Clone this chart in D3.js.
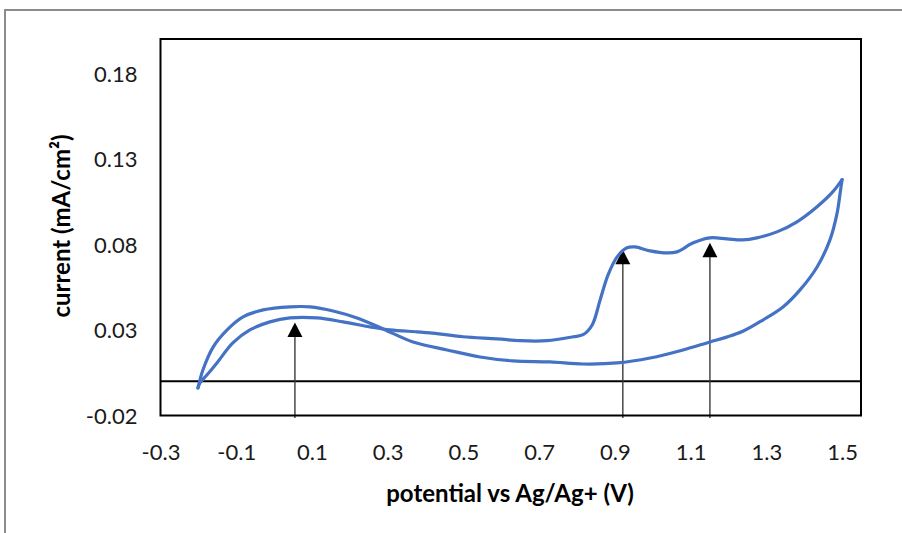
<!DOCTYPE html>
<html>
<head>
<meta charset="utf-8">
<script src="https://cdn.jsdelivr.net/npm/d3@7"></script>
<style>
  html, body { margin: 0; padding: 0; background: #fff; }
  svg { display: block; }
</style>
</head>
<body>
<svg id="chart" width="902" height="533"></svg>
<script>
// ---- data ----
const forwardV = [-0.201, -0.196, -0.178, -0.151, -0.109, -0.064, -0.011, 0.042, 0.113, 0.182, 0.253, 0.306, 0.378, 0.412, 0.499, 0.589, 0.650, 0.721, 0.790, 0.816, 0.840, 0.861, 0.882, 0.906, 0.932, 0.953, 0.993, 1.038, 1.064, 1.107, 1.151, 1.196, 1.238, 1.275, 1.328, 1.381, 1.434, 1.476, 1.500];
const forwardI = [-0.0039, -0.001, 0.0035, 0.0107, 0.0224, 0.030, 0.0347, 0.037, 0.037, 0.0347, 0.0318, 0.030, 0.0289, 0.0283, 0.026, 0.0248, 0.0237, 0.0237, 0.026, 0.0272, 0.0329, 0.0475, 0.0622, 0.0727, 0.078, 0.0785, 0.0762, 0.075, 0.0756, 0.0809, 0.0838, 0.0832, 0.0826, 0.0838, 0.0873, 0.0932, 0.102, 0.1108, 0.1178];
const reverseV = [1.500, 1.495, 1.487, 1.468, 1.434, 1.389, 1.344, 1.291, 1.238, 1.195, 1.151, 1.080, 0.993, 0.906, 0.816, 0.729, 0.631, 0.544, 0.457, 0.367, 0.288, 0.219, 0.156, 0.095, 0.042, -0.029, -0.082, -0.124, -0.161, -0.188, -0.201];
const reverseI = [0.1178, 0.1102, 0.0984, 0.0826, 0.0668, 0.0534, 0.0434, 0.0358, 0.0292, 0.0258, 0.023, 0.0183, 0.0136, 0.0107, 0.0101, 0.0113, 0.0119, 0.0142, 0.0183, 0.023, 0.0306, 0.037, 0.0411, 0.0435, 0.0435, 0.0417, 0.0376, 0.030, 0.020, 0.0066, -0.0039];
const arrowV = [0.055, 0.921, 1.151];
const arrowTipI = [0.0343, 0.0768, 0.0809];
const xTicks = [-0.3, -0.1, 0.1, 0.3, 0.5, 0.7, 0.9, 1.1, 1.3, 1.5];
const yTicks = [-0.02, 0.03, 0.08, 0.13, 0.18];
const xTitle = "potential vs Ag/Ag+ (V)";
const yTitle = "current (mA/cm²)";

// ---- layout ----
const svg = d3.select("#chart");
const L = 160.5, R = 861, T = 39, B = 415.5;
const x = d3.scaleLinear().domain([-0.3, 1.55]).range([L, R]);
const y = d3.scaleLinear().domain([-0.02, 0.2]).range([B, T]);
const font = "Lato, 'Open Sans', sans-serif";
const hy = s => s.replace("\u2212", "-");

// outer chart-area border
svg.append("rect").attr("x", 5).attr("y", 10).attr("width", 1000).attr("height", 1000)
  .attr("fill", "#fff").attr("stroke", "#8c8c8c").attr("stroke-width", 2);

// zero line
svg.append("line").attr("x1", L).attr("x2", R).attr("y1", y(0)).attr("y2", y(0))
  .attr("stroke", "#000").attr("stroke-width", 2);

// arrows
const arrows = svg.append("g");
arrowV.forEach((v, k) => {
  const tip = y(arrowTipI[k]);
  arrows.append("line").attr("x1", x(v)).attr("x2", x(v))
    .attr("y1", y(-0.0215)).attr("y2", tip + 10)
    .attr("stroke", "#3a3a3a").attr("stroke-width", 1.4);
  arrows.append("path")
    .attr("d", `M${x(v)},${tip} L${x(v) - 7.5},${tip + 14.5} L${x(v) + 7.5},${tip + 14.5} Z`)
    .attr("fill", "#000");
});

// CV curve
const line = d3.line().x(d => x(d[0])).y(d => y(d[1])).curve(d3.curveCatmullRom.alpha(0.5));
const fwd = forwardV.map((v, k) => [v, forwardI[k]]);
const rev = reverseV.map((v, k) => [v, reverseI[k]]);
[fwd, rev].forEach(data => {
  svg.append("path").attr("d", line(data)).attr("fill", "none")
    .attr("stroke", "#4472C4").attr("stroke-width", 3.2)
    .attr("stroke-linejoin", "round").attr("stroke-linecap", "round");
});

// plot border
svg.append("rect").attr("x", L).attr("y", T).attr("width", R - L).attr("height", B - T)
  .attr("fill", "none").attr("stroke", "#000").attr("stroke-width", 2);

// axes (labels only)
const xAxis = d3.axisBottom(x).tickValues(xTicks).tickSize(0).tickPadding(0)
  .tickFormat(d => hy(d3.format(".1f")(d)));
const gx = svg.append("g").attr("transform", `translate(0,${B + 44})`).call(xAxis);
gx.select(".domain").remove();
gx.selectAll("text").attr("font-family", font).attr("font-size", 22).attr("fill", "#1a1a1a").attr("dy", 0);

const yAxis = d3.axisLeft(y).tickValues(yTicks).tickSize(0).tickPadding(0)
  .tickFormat(d => hy(d3.format(".2f")(d)));
const gy = svg.append("g").attr("transform", `translate(${L - 23},0)`).call(yAxis);
gy.select(".domain").remove();
gy.selectAll("text").attr("font-family", font).attr("font-size", 22).attr("fill", "#1a1a1a").attr("dy", "0.36em");

// titles
svg.append("text").attr("x", 510).attr("y", 502).attr("text-anchor", "middle")
  .attr("font-family", font).attr("font-weight", "bold").attr("font-size", 24).attr("fill", "#000").text(xTitle);
svg.append("text").attr("transform", `translate(70,226) rotate(-90)`).attr("text-anchor", "middle")
  .attr("font-family", font).attr("font-weight", "bold").attr("font-size", 24).attr("fill", "#000").text(yTitle);
</script>
</body>
</html>
